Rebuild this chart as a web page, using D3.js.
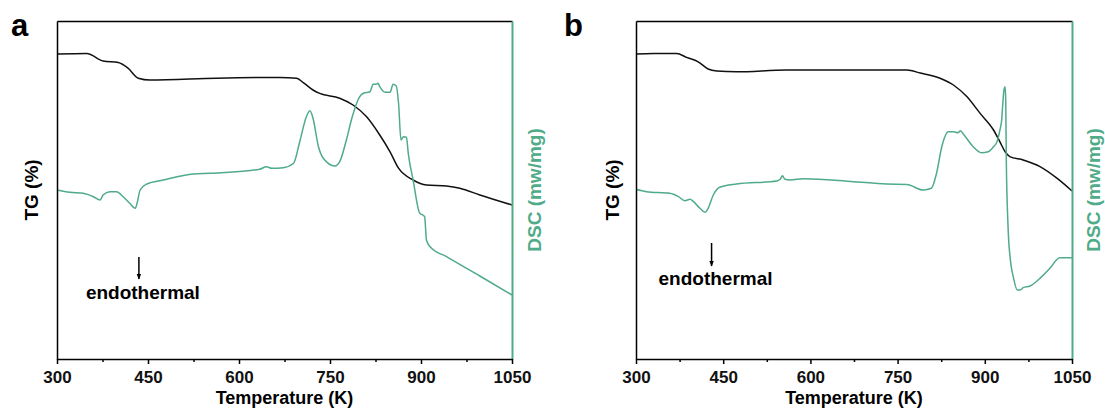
<!DOCTYPE html>
<html>
<head>
<meta charset="utf-8">
<script src="https://cdn.jsdelivr.net/npm/d3@7"></script>
<style>
  body { margin: 0; background: #fff; }
  text { font-family: "Liberation Sans", Arial, sans-serif; font-weight: bold; }
</style>
</head>
<body>
<script>
// Temperature axis
const tempTicks = [300, 450, 600, 750, 900, 1050];
const minorTicks = [375, 525, 675, 825, 975];

// TG (%) and DSC (mw/mg) value ranges (no tick labels shown on these axes)
const tgDomain = [23.5, 108];
const dscDomain = [-3.76, 3];

// panel a : [temperature K, value]
const tgA = [[300, 99.75], [349, 99.9], [376, 98.0], [401, 97.6], [417, 96.2], [434, 93.7],
  [453, 93.25], [563, 93.7], [667, 93.9], [695, 93.7], [706, 92.6], [722, 90.75],
  [733, 89.9], [766, 88.7], [788, 87.0], [810, 84.1], [832, 79.5], [849, 75.3],
  [863, 71.2], [887, 68.25], [909, 67.0], [942, 66.75], [964, 66.2], [997, 64.5], [1050, 62.0]];

const dscA = [[300, -0.38], [321, -0.426], [343, -0.446], [360, -0.514], [371, -0.58], [376, -0.48],
  [387, -0.414], [398, -0.414], [409, -0.514], [420, -0.646], [429, -0.746], [432, -0.646],
  [437, -0.38], [448, -0.26], [475, -0.18], [525, -0.06], [552, -0.046], [634, 0.034],
  [645, 0.086], [654, 0.054], [673, 0.066], [690, 0.154], [700, 0.58], [711, 1.086],
  [717, 1.206], [722, 1.054], [731, 0.486], [739, 0.254], [758, 0.10], [766, 0.186],
  [777, 0.62], [786, 1.054], [799, 1.486], [805, 1.554], [816, 1.586], [821, 1.734],
  [827, 1.74], [829, 1.754], [832, 1.686], [841, 1.574], [849, 1.574], [854, 1.734],
  [859, 1.706], [863, 1.354], [867, 0.62], [871, 0.686], [876, 0.674], [879, 0.354],
  [887, -0.18], [898, -0.846], [903, -0.88], [906, -0.914], [909, -1.38], [915, -1.514],
  [942, -1.714], [997, -2.10], [1050, -2.48]];

// panel b
const tgB = [[300, 99.75], [330, 99.9], [370, 99.9], [387, 98.9], [407, 97.8], [424, 96.0],
  [439, 95.5], [473, 95.3], [559, 95.75], [731, 95.75], [766, 95.75], [789, 95.0],
  [823, 93.7], [846, 92.0], [869, 89.1], [892, 84.9], [915, 80.75], [926, 77.8],
  [935, 75.3], [943, 74.1], [966, 73.25], [995, 71.6], [1024, 68.7], [1050, 65.5]];

const dscB = [[300, -0.366], [318, -0.414], [358, -0.446], [373, -0.514], [384, -0.594],
  [393, -0.566], [399, -0.614], [410, -0.746], [419, -0.826], [424, -0.746], [433, -0.48],
  [444, -0.326], [473, -0.26], [542, -0.20], [548, -0.166], [552, -0.094], [556, -0.166],
  [565, -0.18], [588, -0.154], [674, -0.214], [731, -0.26], [766, -0.27], [794, -0.38],
  [808, -0.346], [817, -0.046], [826, 0.486], [837, 0.786], [846, 0.786], [854, 0.766],
  [858, 0.806], [863, 0.74], [880, 0.486], [894, 0.366], [906, 0.386], [915, 0.486],
  [921, 0.586], [926, 0.82], [929, 1.02], [931, 1.354], [933, 1.62], [935, 1.686],
  [936, 1.42], [937, 0.22], [940, -1.114], [944, -1.78], [949, -2.114], [956, -2.38],
  [961, -2.38], [966, -2.334], [978, -2.30], [995, -2.146], [1012, -1.946], [1029, -1.734],
  [1050, -1.734]];

// "endothermal" marker: temperature, arrow top, arrow tip, text baseline (DSC units)
const markA = { t: 435, top: -1.72, tip: -2.16, label: -2.56 };
const markB = { t: 430, top: -1.44, tip: -1.90, label: -2.28 };

const green = "#4fab88";
const plotTop = 21, plotBottom = 359;

const svg = d3.select("body").append("svg")
    .attr("width", 1105)
    .attr("height", 409);

svg.append("defs").append("marker")
    .attr("id", "arrow")
    .attr("viewBox", "0 0 10 10")
    .attr("refX", 9).attr("refY", 5)
    .attr("markerWidth", 4).attr("markerHeight", 4)
    .attr("orient", "auto")
    .append("path")
    .attr("d", "M0,1 L10,5 L0,9 Z")
    .attr("fill", "#000");

function drawPanel(p) {
    const x = d3.scaleLinear().domain([300, 1050]).range([p.left, p.right]);
    const yTG = d3.scaleLinear().domain(tgDomain).range([plotBottom, plotTop]);
    const yDSC = d3.scaleLinear().domain(dscDomain).range([plotBottom, plotTop]);

    const g = svg.append("g");

    // curves
    const tgLine = d3.line().x(d => x(d[0])).y(d => yTG(d[1])).curve(d3.curveMonotoneX);
    const dscLine = d3.line().x(d => x(d[0])).y(d => yDSC(d[1])).curve(d3.curveMonotoneX);

    g.append("path").datum(p.tg)
        .attr("d", tgLine)
        .attr("fill", "none").attr("stroke", "#111").attr("stroke-width", 1.5);

    g.append("path").datum(p.dsc)
        .attr("d", dscLine)
        .attr("fill", "none").attr("stroke", green).attr("stroke-width", 1.5);

    // frame: top and left black, right green
    g.append("g").attr("transform", `translate(0,${plotTop})`)
        .call(d3.axisTop(x).tickValues([]).tickSizeOuter(0))
        .select(".domain").attr("stroke-width", 1.5);
    g.append("g").attr("transform", `translate(${p.left},0)`)
        .call(d3.axisLeft(yTG).tickValues([]).tickSizeOuter(0))
        .select(".domain").attr("stroke-width", 1.5);
    g.append("g").attr("transform", `translate(${p.right},0)`)
        .call(d3.axisRight(yDSC).tickValues([]).tickSizeOuter(0))
        .select(".domain").attr("stroke", green).attr("stroke-width", 2);

    // bottom axis: minor then major ticks
    g.append("g").attr("transform", `translate(0,${plotBottom})`)
        .call(d3.axisBottom(x).tickValues(minorTicks).tickSize(3).tickFormat("").tickSizeOuter(0))
        .call(a => a.selectAll("line").attr("stroke-width", 1.5));
    const xa = g.append("g").attr("transform", `translate(0,${plotBottom})`)
        .call(d3.axisBottom(x).tickValues(tempTicks).tickSize(5).tickPadding(7)
            .tickFormat(d3.format("d")).tickSizeOuter(0));
    xa.selectAll("line").attr("stroke-width", 1.5);
    xa.select(".domain").attr("stroke-width", 1.5);
    xa.selectAll("text").attr("font-size", 17).attr("fill", "#111");

    g.append("text")
        .attr("x", (p.left + p.right) / 2).attr("y", 404)
        .attr("text-anchor", "middle").attr("font-size", 18)
        .text("Temperature (K)");

    g.append("text")
        .attr("transform", `translate(${p.tgLabelX},${(plotTop + plotBottom) / 2}) rotate(-90)`)
        .attr("text-anchor", "middle").attr("dy", "0.35em").attr("font-size", 19)
        .text("TG (%)");

    g.append("text")
        .attr("transform", `translate(${p.dscLabelX},${(plotTop + plotBottom) / 2}) rotate(-90)`)
        .attr("text-anchor", "middle").attr("dy", "0.35em").attr("font-size", 19)
        .attr("fill", green)
        .text("DSC (mw/mg)");

    // panel letter
    g.append("text")
        .attr("x", p.letterX).attr("y", 36)
        .attr("font-size", 31)
        .text(p.letter);

    // endothermal arrow
    g.append("line")
        .attr("x1", x(p.mark.t)).attr("x2", x(p.mark.t))
        .attr("y1", yDSC(p.mark.top)).attr("y2", yDSC(p.mark.tip))
        .attr("stroke", "#000").attr("stroke-width", 1.5)
        .attr("marker-end", "url(#arrow)");
    g.append("text")
        .attr("x", x(p.mark.t) + 4).attr("y", yDSC(p.mark.label))
        .attr("text-anchor", "middle").attr("font-size", 19)
        .text("endothermal");
}

drawPanel({ left: 57, right: 512, tg: tgA, dsc: dscA, mark: markA,
    tgLabelX: 31, dscLabelX: 534, letter: "a", letterX: 11 });
drawPanel({ left: 636, right: 1072, tg: tgB, dsc: dscB, mark: markB,
    tgLabelX: 612, dscLabelX: 1093, letter: "b", letterX: 564 });
</script>
</body>
</html>
